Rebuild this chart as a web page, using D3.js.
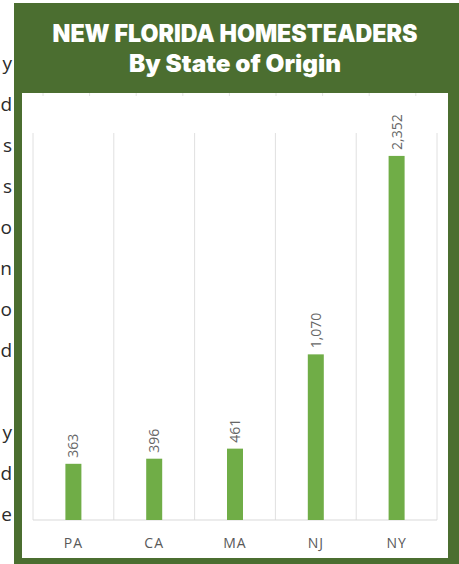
<!DOCTYPE html>
<html>
<head>
<meta charset="utf-8">
<script src="https://cdn.jsdelivr.net/npm/d3@7"></script>
<style>
  body { margin: 0; background: #fff; }
  svg { display: block; }
</style>
</head>
<body>
<script>
const states = ["PA", "CA", "MA", "NJ", "NY"];
const homesteaders = [363, 396, 461, 1070, 2352];
const titleLines = ["NEW FLORIDA HOMESTEADERS", "By State of Origin"];
// bits of the neighbouring paragraph, cut off at the left edge
const sideText = ["y", "d", "s", "s", "o", "n", "o", "d", "", "y", "d", "e"];

const w = 459;
const h = 564;

const svg = d3.select("body")
  .append("svg")
  .attr("width", w)
  .attr("height", h);

// left paragraph fragments
svg.selectAll("text.side")
  .data(sideText)
  .enter()
  .append("text")
  .attr("class", "side")
  .attr("x", 12)
  .attr("y", (d, i) => 70 + i * 41)
  .attr("text-anchor", "end")
  .attr("font-family", "Open Sans")
  .attr("font-size", 19)
  .attr("fill", "#2b2b2b")
  .text(d => d);

// frame
svg.append("rect")
  .attr("x", 14).attr("y", 3)
  .attr("width", w - 14).attr("height", h - 3)
  .attr("fill", "#4b6e30");

svg.append("rect")
  .attr("x", 22).attr("y", 93)
  .attr("width", 426).attr("height", 465)
  .attr("fill", "#fff");

// faint ticks on top edge of the panel
svg.selectAll("line.top")
  .data(d3.range(9))
  .enter()
  .append("line")
  .attr("class", "top")
  .attr("x1", d => 43 + d * 46.6)
  .attr("x2", d => 43 + d * 46.6)
  .attr("y1", 93).attr("y2", 96)
  .attr("stroke", "#e4e4e4");

const titleWidths = [365, 212];

svg.selectAll("text.title")
  .data(titleLines)
  .enter()
  .append("text")
  .attr("class", "title")
  .attr("x", 235)
  .attr("y", (d, i) => 42 + i * 30)
  .attr("text-anchor", "middle")
  .attr("font-family", "Inter")
  .attr("font-weight", 900)
  .attr("font-size", 24)
  .attr("textLength", (d, i) => titleWidths[i])
  .attr("lengthAdjust", "spacingAndGlyphs")
  .attr("fill", "#fff")
  .text(d => d);

const x = d3.scaleBand()
  .domain(states)
  .range([33, 437]);

const y = d3.scaleLinear()
  .domain([0, 2500])
  .range([520, 133]);

// vertical category separators
svg.selectAll("line.grid")
  .data(d3.range(states.length + 1))
  .enter()
  .append("line")
  .attr("class", "grid")
  .attr("x1", d => 33 + d * x.step())
  .attr("x2", d => 33 + d * x.step())
  .attr("y1", y(2500))
  .attr("y2", y(0))
  .attr("stroke", "#e0e0e0");

svg.append("line")
  .attr("x1", 33).attr("x2", 437)
  .attr("y1", y(0)).attr("y2", y(0))
  .attr("stroke", "#d9d9d9");

const barW = 16;

svg.selectAll("rect.bar")
  .data(homesteaders)
  .enter()
  .append("rect")
  .attr("class", "bar")
  .attr("x", (d, i) => x(states[i]) + x.bandwidth() / 2 - barW / 2)
  .attr("y", d => y(d))
  .attr("width", barW)
  .attr("height", d => y(0) - y(d))
  .attr("fill", "#70ad47");

svg.selectAll("text.val")
  .data(homesteaders)
  .enter()
  .append("text")
  .attr("class", "val")
  .attr("transform", (d, i) => `translate(${x(states[i]) + x.bandwidth() / 2},${y(d) - 6}) rotate(-90)`)
  .attr("dy", "0.35em")
  .attr("font-family", "Open Sans")
  .attr("font-size", 14)
  .attr("fill", "#666")
  .text(d => d3.format(",")(d));

const axis = svg.append("g")
  .attr("transform", `translate(0,${y(0)})`)
  .call(d3.axisBottom(x).tickSize(0).tickPadding(18));

axis.select(".domain").remove();
axis.selectAll("text")
  .attr("font-family", "Open Sans")
  .attr("font-size", 14)
  .attr("letter-spacing", 1)
  .attr("fill", "#595959");
</script>
</body>
</html>
